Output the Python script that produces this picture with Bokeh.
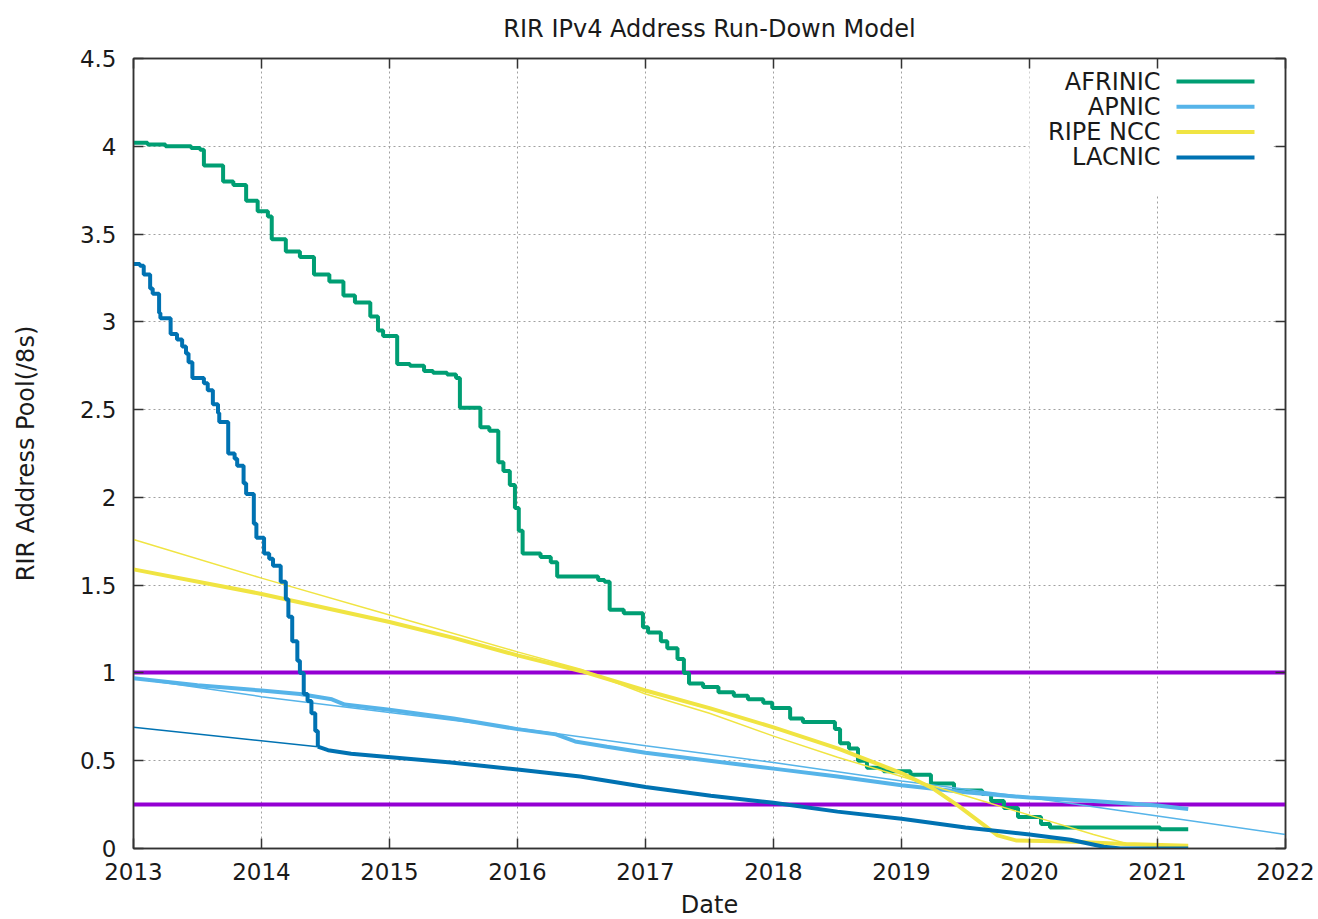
from bokeh.plotting import figure
from bokeh.models import (FixedTicker, LinearAxis, Range1d, Label, BoxAnnotation,
                          CustomJSTickFormatter)
from bokeh.embed import file_html
from bokeh.resources import INLINE

# ---------------- data ----------------
title_text = "RIR IPv4 Address Run-Down Model"
x_label = "Date"
y_label = "RIR Address Pool(/8s)"

years = [2013, 2014, 2015, 2016, 2017, 2018, 2019, 2020, 2021, 2022]
year_labels = ["2013", "2014", "2015", "2016", "2017", "2018", "2019", "2020", "2021", "2022"]
y_ticks = [0, 0.5, 1, 1.5, 2, 2.5, 3, 3.5, 4, 4.5]
y_tick_labels = ["0", "0.5", "1", "1.5", "2", "2.5", "3", "3.5", "4", "4.5"]
thresholds = [1.0, 0.25]

series_names = ["AFRINIC", "APNIC", "RIPE NCC", "LACNIC"]
series_colors = ["#009e73", "#56b4e9", "#f0e442", "#0072b2"]
threshold_color = "#9400d3"

afrinic_x = [2013.00, 2013.11, 2013.25, 2013.45, 2013.52, 2013.55, 2013.70, 2013.78, 2013.88, 2013.97,
             2014.05, 2014.08, 2014.19, 2014.30, 2014.41, 2014.53, 2014.64, 2014.73, 2014.85, 2014.91,
             2014.95, 2015.06, 2015.16, 2015.27, 2015.34, 2015.45, 2015.52, 2015.55, 2015.71, 2015.78,
             2015.85, 2015.89, 2015.94, 2015.98, 2016.01, 2016.04, 2016.18, 2016.26, 2016.31, 2016.63,
             2016.68, 2016.72, 2016.83, 2016.98, 2017.02, 2017.12, 2017.17, 2017.25, 2017.30, 2017.34,
             2017.45, 2017.57, 2017.69, 2017.80, 2017.92, 2017.99, 2018.13, 2018.23, 2018.48, 2018.52,
             2018.59, 2018.66, 2018.73, 2018.86, 2019.07, 2019.23, 2019.41, 2019.63, 2019.70, 2019.80,
             2019.91, 2020.09, 2020.16, 2021.02, 2021.24]
afrinic_y = [4.02, 4.01, 4.00, 3.99, 3.98, 3.89, 3.80, 3.78, 3.69, 3.63,
             3.60, 3.47, 3.40, 3.37, 3.27, 3.23, 3.15, 3.11, 3.03, 2.95,
             2.92, 2.76, 2.75, 2.72, 2.71, 2.70, 2.68, 2.51, 2.40, 2.38,
             2.20, 2.15, 2.07, 1.94, 1.81, 1.68, 1.66, 1.63, 1.55, 1.53,
             1.52, 1.36, 1.34, 1.26, 1.23, 1.18, 1.14, 1.08, 1.00, 0.94,
             0.92, 0.89, 0.87, 0.85, 0.83, 0.80, 0.74, 0.72, 0.68, 0.60,
             0.57, 0.50, 0.46, 0.44, 0.42, 0.37, 0.33, 0.31, 0.27, 0.23,
             0.18, 0.14, 0.12, 0.11, 0.11]

apnic_x = [2013.00, 2013.50, 2014.00, 2014.30, 2014.55, 2014.65, 2015.00, 2015.50, 2016.00, 2016.30,
           2016.45, 2016.70, 2017.00, 2017.50, 2018.00, 2018.50, 2019.00, 2019.50, 2020.00, 2020.50,
           2021.00, 2021.24]
apnic_y = [0.97, 0.93, 0.90, 0.88, 0.85, 0.82, 0.79, 0.74, 0.68, 0.65,
           0.61, 0.58, 0.545, 0.50, 0.455, 0.41, 0.36, 0.32, 0.29, 0.27,
           0.245, 0.225]
apnic_model_x = [2013, 2014, 2015, 2016, 2017, 2018, 2019, 2020, 2021, 2022]
apnic_model_y = [0.97, 0.865, 0.775, 0.685, 0.585, 0.49, 0.385, 0.29, 0.185, 0.08]

ripe_x = [2013.00, 2014.00, 2015.00, 2015.50, 2016.00, 2016.50, 2017.00, 2017.50, 2018.00, 2018.50,
          2019.00, 2019.25, 2019.45, 2019.65, 2019.75, 2019.90, 2020.30, 2020.75, 2021.24]
ripe_y = [1.59, 1.45, 1.29, 1.20, 1.10, 1.01, 0.90, 0.80, 0.69, 0.57,
          0.43, 0.34, 0.24, 0.13, 0.075, 0.045, 0.04, 0.025, 0.015]
ripe_model_x = [2013.0, 2014.0, 2015.0, 2016.0, 2016.5, 2017.0, 2017.5, 2018.0, 2018.5, 2019.0,
                2019.5, 2020.0, 2020.5, 2020.8]
ripe_model_y = [1.76, 1.54, 1.33, 1.12, 1.02, 0.88, 0.77, 0.64, 0.52, 0.41,
                0.30, 0.19, 0.08, 0.02]

lacnic_x = [2013.00, 2013.05, 2013.08, 2013.13, 2013.15, 2013.20, 2013.21, 2013.29, 2013.34, 2013.38,
            2013.41, 2013.43, 2013.46, 2013.55, 2013.58, 2013.62, 2013.66, 2013.67, 2013.74, 2013.79,
            2013.81, 2013.86, 2013.88, 2013.94, 2013.96, 2014.02, 2014.06, 2014.09, 2014.15, 2014.19,
            2014.21, 2014.24, 2014.28, 2014.30, 2014.33, 2014.36, 2014.39, 2014.42, 2014.44, 2014.52,
            2014.70, 2015.01, 2015.48, 2016.00, 2016.49, 2017.00, 2017.51, 2018.00, 2018.50, 2019.00,
            2019.50, 2020.00, 2020.32, 2020.58, 2020.71, 2021.24]
lacnic_y = [3.33, 3.32, 3.27, 3.19, 3.16, 3.05, 3.02, 2.93, 2.90, 2.86,
            2.82, 2.77, 2.68, 2.65, 2.61, 2.53, 2.48, 2.43, 2.25, 2.22,
            2.18, 2.08, 2.02, 1.85, 1.77, 1.68, 1.65, 1.61, 1.52, 1.42,
            1.32, 1.18, 1.07, 1.00, 0.88, 0.84, 0.77, 0.67, 0.58, 0.56,
            0.54, 0.52, 0.49, 0.45, 0.41, 0.35, 0.30, 0.26, 0.21, 0.17,
            0.12, 0.08, 0.05, 0.01, 0.00, 0.00]
lacnic_step_end = 2014.44   # up to this date the record is drawn as a staircase
lacnic_model_x = [2013.00, 2014.44]
lacnic_model_y = [0.69, 0.58]

# ---------------- figure ----------------
FONT = "DejaVu Sans"
TXT = "#1a1a1a"
AXC = "#333333"
FRAME_W, FRAME_H = 1152, 790

p = figure(frame_width=FRAME_W, frame_height=FRAME_H,
           x_range=Range1d(years[0], years[-1]), y_range=Range1d(y_ticks[0], y_ticks[-1]),
           output_backend="svg", toolbar_location=None,
           min_border_left=133, min_border_right=30, min_border_top=58, min_border_bottom=60,
           background_fill_color="white", border_fill_color="white")

p.title.text = title_text
p.title.align = "center"
p.title.vertical_align = "top"
p.title.standoff = 28
p.title.text_font = FONT
p.title.text_font_size = "24px"
p.title.text_font_style = "normal"
p.title.text_color = TXT

p.outline_line_color = AXC
p.outline_line_width = 1.5

for ax in (p.xaxis[0], p.yaxis[0]):
    ax.axis_line_color = AXC
    ax.axis_line_width = 1.5
    ax.major_tick_line_color = AXC
    ax.major_tick_line_width = 1.5
    ax.major_tick_in = 10
    ax.major_tick_out = 0
    ax.minor_tick_line_color = None
    ax.major_label_text_font = FONT
    ax.major_label_text_font_size = "23px"
    ax.major_label_text_color = TXT
    ax.axis_label_text_font = FONT
    ax.axis_label_text_font_size = "24px"
    ax.axis_label_text_font_style = "normal"
    ax.axis_label_text_color = TXT

p.xaxis.ticker = FixedTicker(ticks=years)
p.xaxis.major_label_overrides = dict(zip(years, year_labels))
p.xaxis.axis_label = x_label
p.xaxis.major_label_standoff = 14
p.xaxis.axis_label_standoff = 8

p.yaxis.ticker = FixedTicker(ticks=y_ticks)
p.yaxis.major_label_overrides = dict(zip(y_ticks, y_tick_labels))
p.yaxis.axis_label = y_label
p.yaxis.major_label_standoff = 17
p.yaxis.axis_label_standoff = 37

# mirrored ticks (top / right)
for loc, ticks in (("above", years), ("right", y_ticks)):
    m = LinearAxis(ticker=FixedTicker(ticks=ticks),
                   formatter=CustomJSTickFormatter(code="return ''"),
                   major_label_text_font_size="0px", major_label_standoff=0,
                   axis_line_color=AXC, axis_line_width=1.5,
                   major_tick_line_color=AXC, major_tick_line_width=1.5,
                   major_tick_in=10, major_tick_out=0, minor_tick_line_color=None)
    p.add_layout(m, loc)

p.xgrid.ticker = FixedTicker(ticks=years)
p.ygrid.ticker = FixedTicker(ticks=y_ticks)
for g in (p.xgrid[0], p.ygrid[0]):
    g.grid_line_color = "#a0a0a0"
    g.grid_line_dash = "2 3"
    g.grid_line_width = 1

# helpers converting frame pixel offsets to data units (key only)
px_per_year = FRAME_W / (years[-1] - years[0])
px_per_unit = FRAME_H / (y_ticks[-1] - y_ticks[0])
def dx(px):
    return years[0] + px / px_per_year
def dy(px_from_top):
    return y_ticks[-1] - px_from_top / px_per_unit

# key background (covers the grid like gnuplot's key box)
p.add_layout(BoxAnnotation(left=dx(896), right=dx(1140), top=dy(1), bottom=dy(137),
                           fill_color="white", fill_alpha=1.0, line_color=None, level="underlay"))

# ---------------- data marks ----------------
p.hspan(y=thresholds, line_color=threshold_color, line_width=4)

p.step(afrinic_x, afrinic_y, mode="after", line_color=series_colors[0], line_width=4)
p.line(apnic_x, apnic_y, line_color=series_colors[1], line_width=4)
p.line(apnic_model_x, apnic_model_y, line_color=series_colors[1], line_width=1.5)
p.line(ripe_x, ripe_y, line_color=series_colors[2], line_width=4)
p.line(ripe_model_x, ripe_model_y, line_color=series_colors[2], line_width=1.5)

n_step = sum(1 for v in lacnic_x if v <= lacnic_step_end)
p.step(lacnic_x[:n_step], lacnic_y[:n_step], mode="after", line_color=series_colors[3], line_width=4)
p.line(lacnic_x[n_step - 1:], lacnic_y[n_step - 1:], line_color=series_colors[3], line_width=4)
p.line(lacnic_model_x, lacnic_model_y, line_color=series_colors[3], line_width=1.5)

# ---------------- key (labels left, samples right, as in gnuplot) ----------------
for i, (name, col) in enumerate(zip(series_names, series_colors)):
    yc = dy(23 + i * 25.3)
    p.add_layout(Label(x=dx(1027), y=yc, text=name, text_align="right", text_baseline="middle",
                       text_font=FONT, text_font_size="24px", text_color=TXT))
    p.add_layout(BoxAnnotation(left=dx(1043), right=dx(1121), bottom=yc - 2 / px_per_unit,
                               top=yc + 2 / px_per_unit, fill_color=col, fill_alpha=1.0,
                               line_color=None))

open("out.html", "w").write(file_html(p, INLINE))
